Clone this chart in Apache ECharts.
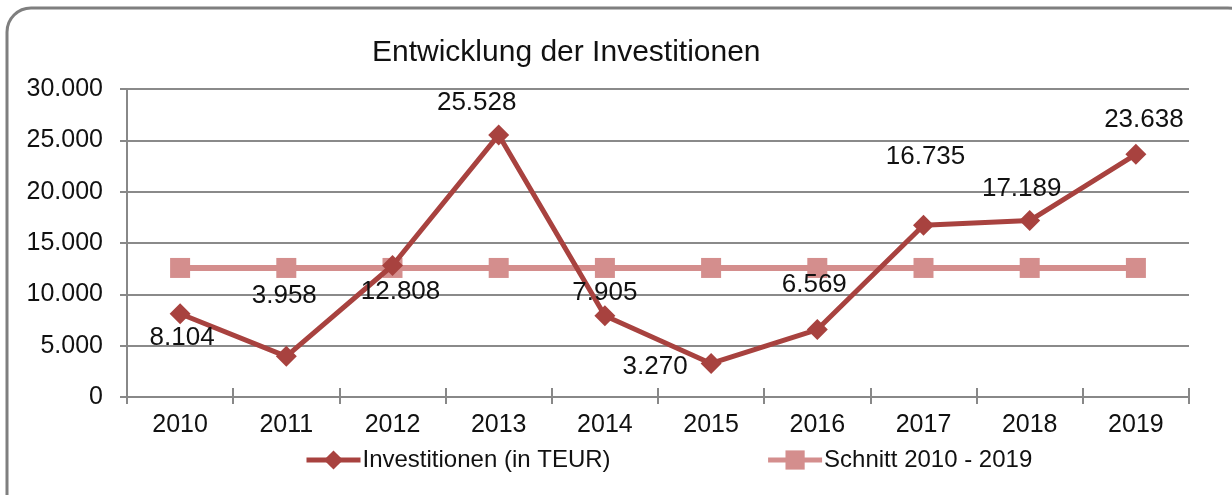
<!DOCTYPE html>
<html>
<head>
<meta charset="utf-8">
<script src="https://cdn.jsdelivr.net/npm/echarts@6/dist/echarts.min.js"></script>
<style>html,body{margin:0;padding:0;background:#fff;}#c{width:1232px;height:495px;}</style>
</head>
<body>
<div id="c"></div>
<script>
var years = ['2010','2011','2012','2013','2014','2015','2016','2017','2018','2019'];
var invest = [8104, 3958, 12808, 25528, 7905, 3270, 6569, 16735, 17189, 23638];
var avgValues = [12570, 12570, 12570, 12570, 12570, 12570, 12570, 12570, 12570, 12570];
var labelTexts = ['8.104','3.958','12.808','25.528','7.905','3.270','6.569','16.735','17.189','23.638'];
var labelOffsets = [[2,24],[-2,-61],[8,26],[-22,-32],[0,-23],[-56,3],[-3,-45],[2,-68],[-8,-32],[8,-34]];

var FONT = '"Liberation Sans", Arial, sans-serif';
function fmt(v){ return String(v).replace(/\B(?=(\d{3})+(?!\d))/g, '.'); }

var investData = invest.map(function(v, i){
  return {
    value: v,
    label: { show: true, position: 'inside', offset: labelOffsets[i], formatter: labelTexts[i] }
  };
});

var chart = echarts.init(document.getElementById('c'));
chart.setOption({
  animation: false,
  backgroundColor: '#fff',
  graphic: [{
    type: 'rect', z: -10, silent: true,
    shape: { x: 7, y: 8, width: 1245, height: 520, r: 24 },
    style: { fill: '#fff', stroke: '#7f7f7f', lineWidth: 3 }
  }],
  title: {
    text: 'Entwicklung der Investitionen',
    left: 367, top: 33,
    textStyle: { fontFamily: FONT, fontSize: 30, fontWeight: 'normal', color: '#111' }
  },
  legend: {
    left: 304, top: 448, padding: 0,
    itemWidth: 54, itemHeight: 24, itemGap: 155,
    lineStyle: { width: 5 },
    textStyle: { fontFamily: FONT, fontSize: 24, color: '#111', padding: [0,0,0,-3] },
    data: ['Investitionen (in TEUR)', 'Schnitt 2010 - 2019']
  },
  grid: { left: 127, right: 43, top: 89, bottom: 98 },
  xAxis: [{
    type: 'category', data: years, boundaryGap: true, position: 'bottom',
    axisLine: { lineStyle: { color: '#888', width: 2 } },
    axisTick: { show: true, length: 7, lineStyle: { color: '#888', width: 2 } },
    axisLabel: { margin: 16, fontFamily: FONT, fontSize: 25, color: '#111' }
  }, {
    type: 'category', data: years, boundaryGap: true, position: 'bottom', offset: 0,
    axisLine: { show: false },
    axisTick: { show: true, inside: true, length: 9, lineStyle: { color: '#888', width: 2 } },
    axisLabel: { show: false }
  }],
  yAxis: {
    type: 'value', min: 0, max: 30000, interval: 5000,
    axisLine: { show: true, lineStyle: { color: '#888', width: 2 } },
    axisTick: { show: true, length: 7, lineStyle: { color: '#888', width: 2 } },
    splitLine: { lineStyle: { color: '#8a8a8a', width: 2 } },
    axisLabel: { margin: 24, fontFamily: FONT, fontSize: 25, color: '#111', formatter: function(v){ return fmt(v); } }
  },
  series: [{
    name: 'Schnitt 2010 - 2019', type: 'line', data: avgValues,
    symbol: 'rect', symbolSize: 20,
    itemStyle: { color: '#D48E8D' },
    lineStyle: { color: '#D48E8D', width: 6 },
    z: 2
  }, {
    name: 'Investitionen (in TEUR)', type: 'line', data: investData,
    symbol: 'diamond', symbolSize: 21,
    itemStyle: { color: '#A8423F' },
    lineStyle: { color: '#A8423F', width: 5 },
    label: { fontFamily: FONT, fontSize: 26, color: '#111' },
    z: 3
  }]
});
</script>
</body>
</html>
